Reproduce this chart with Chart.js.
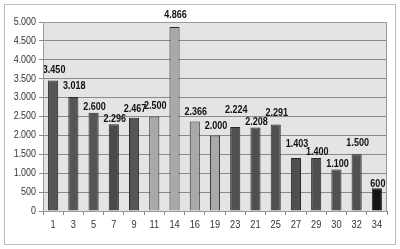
<!DOCTYPE html>
<html><head><meta charset="utf-8">
<script src="https://cdn.jsdelivr.net/npm/chart.js@4/dist/chart.umd.min.js"></script>
<style>
html,body{margin:0;padding:0;background:#fff;}
#wrap{position:relative;width:400px;height:249px;}
#frame{position:absolute;left:4px;top:4px;width:390px;height:239px;border:1px solid #bdbdbd;}
canvas{position:absolute;left:0;top:0;}
</style></head><body>
<div id="wrap"><div id="frame"></div><canvas id="c" width="400" height="249"></canvas></div>
<script>
const categories = ['1','3','5','7','9','11','14','16','19','23','21','25','27','29','30','32','34'];
const values = [3450,3018,2600,2296,2467,2500,4866,2366,2000,2224,2208,2291,1403,1400,1100,1500,600];
const barColors = ['#555555','#555555','#555555','#4a4a4a','#555555','#a9a9a9','#a9a9a9','#a9a9a9','#a9a9a9','#505050','#505050','#505050','#505050','#505050','#505050','#505050','#151515'];
// label lift above bar top (px), as in the reference's staggered labels
const labelLift = [11,11,6,5,9,11,12,10,9,17,6,11,14,6,5,11,4];
const FONT = 'Arial, "Liberation Sans", sans-serif';
const fmt = v => String(v).replace(/\B(?=(\d{3})+(?!\d))/g, '.');

function squeezedText(ctx, txt, x, y, align, sq){
  ctx.save();
  ctx.translate(x, y);
  ctx.scale(sq, 1);
  ctx.textAlign = align;
  ctx.fillText(txt, 0, 0);
  ctx.restore();
}

const bgPlugin = {
  id:'bg',
  beforeDraw(chart){
    const {ctx, chartArea:a} = chart;
    ctx.save(); ctx.fillStyle='#e4e4e4';
    ctx.fillRect(a.left,a.top,a.right-a.left,a.bottom-a.top);
    ctx.restore();
  },
  afterDraw(chart){
    const {ctx, chartArea:a} = chart;
    ctx.save(); ctx.strokeStyle='#9a9a9a'; ctx.lineWidth=1;
    ctx.strokeRect(Math.round(a.left)+0.5,Math.round(a.top)+0.5,Math.round(a.right-a.left)-1,Math.round(a.bottom-a.top));
    const xs = chart.scales.x, ys = chart.scales.y;
    ctx.fillStyle='#333'; ctx.font='10.5px ' + FONT; ctx.textBaseline='middle';
    ys.ticks.forEach(t => squeezedText(ctx, fmt(t.value), a.left - 7, ys.getPixelForValue(t.value), 'right', 0.85));
    categories.forEach((c,i) => squeezedText(ctx, c, xs.getPixelForValue(i), a.bottom + 14, 'center', 0.88));
    ctx.restore();
  }
};
const labelPlugin = {
  id:'lbl',
  afterDatasetsDraw(chart){
    const {ctx} = chart;
    const meta = chart.getDatasetMeta(0);
    ctx.save();
    ctx.font='bold 11px ' + FONT;
    ctx.fillStyle='#111'; ctx.textBaseline='middle';
    meta.data.forEach((el,i)=> squeezedText(ctx, fmt(values[i]), el.x+1, el.y-labelLift[i], 'center', 0.82));
    ctx.restore();
  }
};
new Chart(document.getElementById('c'),{
  type:'bar',
  data:{labels:categories,datasets:[{data:values,backgroundColor:barColors,borderColor:'#2a2a2a',borderWidth:1,barPercentage:0.5,categoryPercentage:1}]},
  options:{
    responsive:false,animation:false,
    layout:{padding:{left:0,right:13,top:22,bottom:10}},
    plugins:{legend:{display:false},tooltip:{enabled:false}},
    scales:{
      x:{
        grid:{drawOnChartArea:false,drawTicks:true,tickLength:4,color:'#888'},
        border:{color:'#888'},
        ticks:{color:'rgba(0,0,0,0)',font:{family:FONT,size:11},padding:4,maxRotation:0},
        afterFit(s){s.height=28;}
      },
      y:{
        min:0,max:5000,
        grid:{color:'#8a8a8a',tickLength:4,drawTicks:true},
        border:{color:'#888'},
        ticks:{stepSize:500,color:'rgba(0,0,0,0)',font:{family:FONT,size:11},padding:3,callback:v=>fmt(v)},
        afterFit(s){s.width=43;}
      }
    }
  },
  plugins:[bgPlugin,labelPlugin]
});
</script></body></html>
